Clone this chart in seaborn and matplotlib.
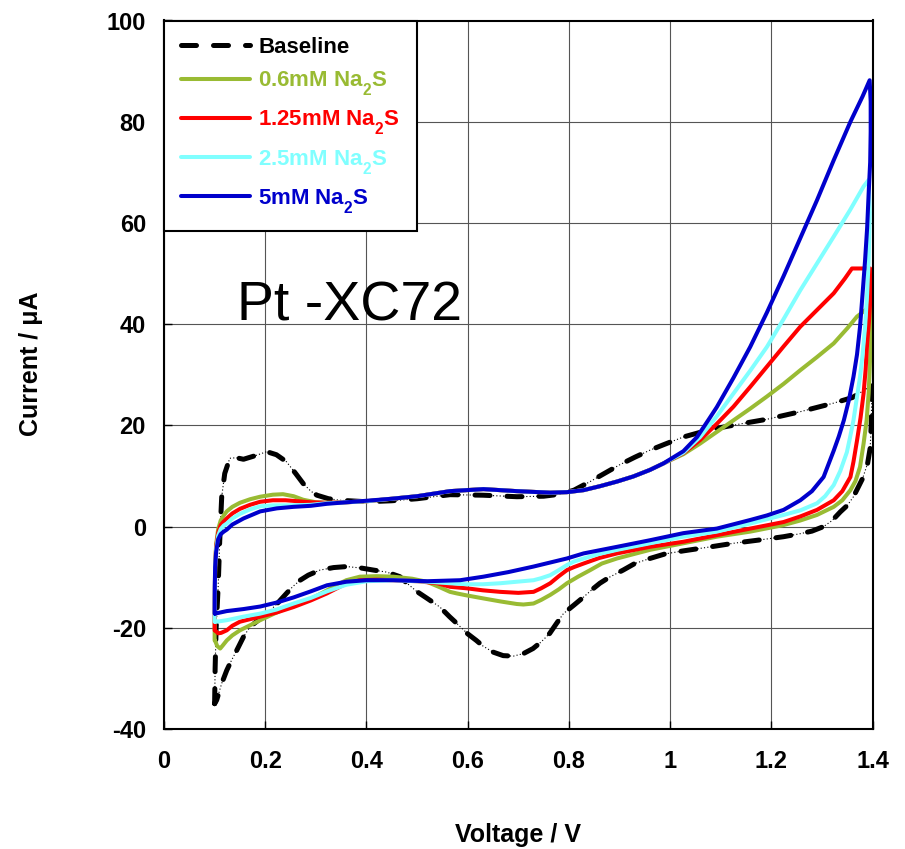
import matplotlib
matplotlib.use("Agg")
import matplotlib.pyplot as plt
import seaborn as sns

# ---------------- data ----------------
x_ticks = [0, 0.2, 0.4, 0.6, 0.8, 1.0, 1.2, 1.4]
x_tick_labels = ["0", "0.2", "0.4", "0.6", "0.8", "1", "1.2", "1.4"]
y_ticks = [-40, -20, 0, 20, 40, 60, 80, 100]
y_tick_labels = ["-40", "-20", "0", "20", "40", "60", "80", "100"]

series_labels = ["Baseline", "0.6mM Na$_2$S", "1.25mM Na$_2$S",
                 "2.5mM Na$_2$S", "5mM Na$_2$S"]

base_v = [0.100, 0.101, 0.103, 0.107, 0.110, 0.114, 0.120, 0.130, 0.143, 0.157, 0.180, 0.203,
          0.222, 0.242, 0.260, 0.275, 0.290, 0.302, 0.325, 0.348, 0.401, 0.450, 0.500, 0.565,
          0.630, 0.697, 0.750, 0.783, 0.810, 0.842, 0.870, 0.900, 0.930, 0.960, 0.990, 1.026,
          1.080, 1.145, 1.191, 1.257, 1.323, 1.360, 1.397,
          1.398, 1.397, 1.395, 1.390, 1.380, 1.370, 1.362, 1.350, 1.336, 1.320, 1.303, 1.280,
          1.257, 1.224, 1.180, 1.125, 1.080, 1.026, 0.990, 0.960, 0.930, 0.907, 0.880, 0.861,
          0.845, 0.828, 0.810, 0.789, 0.775, 0.762, 0.745, 0.729, 0.710, 0.690, 0.670, 0.650,
          0.630, 0.617, 0.600, 0.578, 0.564, 0.545, 0.520, 0.499, 0.480, 0.466, 0.440, 0.414,
          0.390, 0.361, 0.335, 0.308, 0.285, 0.269, 0.255, 0.242, 0.222, 0.203, 0.185, 0.170,
          0.157, 0.144, 0.133, 0.124, 0.114, 0.104, 0.100]
base_i = [-35.0, -28.0, -20.0, -11.9, -3.0, 5.9, 10.5, 13.5, 13.6, 13.3, 14.0, 14.8,
          14.2, 12.8, 10.5, 8.5, 7.0, 6.2, 5.5, 5.2, 4.9, 5.1, 5.5, 6.3,
          6.2, 5.9, 6.0, 6.4, 7.2, 8.9, 10.5, 12.2, 13.7, 15.1, 16.3, 17.7,
          19.2, 20.4, 21.2, 22.7, 24.4, 25.5, 27.8,
          25.0, 20.0, 15.5, 12.5, 9.5, 7.5, 5.9, 4.2, 2.9, 1.2, 0.0, -0.9,
          -1.4, -2.0, -2.6, -3.3, -4.0, -4.8, -5.4, -6.3, -7.3, -8.6, -10.0, -11.2,
          -12.5, -14.0, -15.5, -17.2, -19.2, -21.1, -22.8, -24.1, -25.1, -25.6, -25.5, -24.8,
          -23.6, -22.5, -21.2, -19.1, -17.8, -15.9, -14.2, -12.8, -11.2, -9.9, -9.0, -8.6,
          -8.2, -7.9, -8.1, -8.6, -9.6, -10.6, -11.8, -13.2, -15.4, -17.2, -18.6, -19.8,
          -21.8, -24.4, -26.5, -28.4, -31.0, -34.3, -35.0]

s06_v = [0.100, 0.1003, 0.101, 0.103, 0.107, 0.112, 0.118, 0.124, 0.135, 0.150, 0.170, 0.190,
         0.215, 0.235, 0.256, 0.275, 0.300, 0.330, 0.360, 0.400, 0.450, 0.500, 0.565, 0.631,
         0.697, 0.763, 0.796, 0.829, 0.862, 0.895, 0.927, 0.960, 0.987, 1.026, 1.059, 1.092,
         1.125, 1.158, 1.191, 1.224, 1.257, 1.290, 1.323, 1.350, 1.369, 1.395,
         1.397, 1.396, 1.394, 1.392, 1.388, 1.382, 1.375, 1.366, 1.356, 1.340, 1.323, 1.290,
         1.257, 1.224, 1.158, 1.092, 1.026, 0.960, 0.895, 0.865, 0.842, 0.818, 0.796, 0.780,
         0.763, 0.745, 0.730, 0.710, 0.697, 0.665, 0.631, 0.598, 0.578, 0.565, 0.545, 0.519,
         0.490, 0.453, 0.420, 0.387, 0.360, 0.340, 0.322, 0.290, 0.256, 0.222, 0.190, 0.170,
         0.150, 0.135, 0.124, 0.116, 0.111, 0.105, 0.1008]
s06_i = [-22.5, -15.0, -8.0, -3.5, -0.5, 1.2, 2.2, 3.0, 3.9, 4.7, 5.4, 5.9,
         6.3, 6.4, 6.0, 5.3, 4.8, 4.7, 4.8, 5.0, 5.5, 6.0, 7.0, 7.4,
         7.0, 6.7, 6.8, 7.2, 8.0, 8.9, 9.9, 11.2, 12.5, 14.3, 16.4, 18.7,
         21.0, 23.3, 25.7, 28.2, 30.9, 33.5, 36.2, 39.2, 41.5, 43.5,
         40.0, 36.2, 31.0, 26.3, 21.0, 16.4, 11.8, 9.0, 7.2, 5.2, 3.9, 2.3,
         1.2, 0.3, -1.0, -2.0, -3.3, -4.6, -6.3, -7.3, -8.6, -9.9, -11.2, -12.4,
         -13.5, -14.5, -15.2, -15.4, -15.3, -14.8, -14.2, -13.6, -13.2, -12.9, -12.0, -10.9,
         -10.3, -9.9, -9.8, -9.9, -10.6, -11.6, -12.6, -14.3, -15.5, -17.0, -18.5, -19.5,
         -20.5, -21.5, -22.5, -23.5, -24.1, -23.6, -22.5]

s125_v = [0.100, 0.1003, 0.101, 0.103, 0.107, 0.112, 0.118, 0.124, 0.135, 0.150, 0.170, 0.190,
          0.215, 0.240, 0.265, 0.290, 0.320, 0.360, 0.400, 0.450, 0.500, 0.565, 0.631, 0.697,
          0.763, 0.796, 0.829, 0.862, 0.895, 0.927, 0.960, 0.987, 1.026, 1.059, 1.092, 1.125,
          1.158, 1.191, 1.224, 1.257, 1.290, 1.323, 1.345, 1.359, 1.380, 1.395,
          1.396, 1.393, 1.389, 1.386, 1.382, 1.376, 1.369, 1.362, 1.356, 1.340, 1.323, 1.290,
          1.257, 1.224, 1.158, 1.092, 1.026, 0.960, 0.895, 0.860, 0.829, 0.810, 0.796, 0.780,
          0.763, 0.745, 0.730, 0.700, 0.664, 0.630, 0.598, 0.565, 0.540, 0.500, 0.453, 0.420,
          0.387, 0.355, 0.322, 0.290, 0.256, 0.222, 0.190, 0.170, 0.150, 0.135, 0.124, 0.113,
          0.107, 0.1008]
s125_i = [-20.5, -14.0, -8.0, -4.0, -1.2, 0.3, 1.0, 1.6, 2.6, 3.5, 4.3, 4.9,
          5.2, 5.2, 5.0, 4.8, 4.7, 4.8, 5.0, 5.5, 6.0, 7.0, 7.4, 7.0,
          6.7, 6.8, 7.2, 8.0, 8.9, 9.9, 11.2, 12.5, 14.5, 17.1, 20.3, 23.7,
          27.6, 31.6, 35.6, 39.5, 42.8, 46.1, 49.0, 51.0, 51.0, 51.0,
          46.1, 41.0, 36.2, 31.0, 26.3, 21.5, 17.0, 12.8, 9.8, 7.0, 5.2, 3.3,
          2.0, 0.9, -0.4, -1.7, -3.0, -4.0, -5.3, -6.2, -7.3, -8.0, -8.6, -9.8,
          -11.2, -12.2, -12.9, -13.1, -12.9, -12.6, -12.2, -11.9, -11.2, -10.8, -10.6, -10.5,
          -10.6, -11.5, -13.2, -14.6, -15.9, -17.0, -17.8, -18.3, -18.8, -19.6, -20.5, -21.0,
          -21.1, -20.5]

s25_v = [0.100, 0.1003, 0.101, 0.103, 0.107, 0.112, 0.118, 0.124, 0.135, 0.150, 0.170, 0.190,
         0.215, 0.256, 0.290, 0.320, 0.360, 0.400, 0.450, 0.500, 0.565, 0.631, 0.697, 0.763,
         0.796, 0.829, 0.862, 0.895, 0.927, 0.960, 0.987, 1.026, 1.059, 1.092, 1.125, 1.158,
         1.191, 1.224, 1.257, 1.290, 1.323, 1.355, 1.382, 1.392,
         1.394, 1.393, 1.392, 1.389, 1.385, 1.380, 1.375, 1.368, 1.362, 1.355, 1.349, 1.336,
         1.323, 1.306, 1.290, 1.257, 1.224, 1.158, 1.092, 1.026, 0.960, 0.895, 0.860, 0.829,
         0.810, 0.796, 0.780, 0.763, 0.745, 0.730, 0.697, 0.664, 0.630, 0.598, 0.565, 0.520,
         0.453, 0.400, 0.360, 0.322, 0.290, 0.256, 0.222, 0.190, 0.157, 0.124, 0.104, 0.1008]
s25_i = [-18.8, -13.0, -8.0, -4.5, -1.8, -0.5, 0.2, 0.6, 1.6, 2.5, 3.4, 4.0,
         4.2, 4.2, 4.3, 4.6, 4.8, 5.0, 5.5, 6.0, 7.0, 7.4, 7.0, 6.7,
         6.8, 7.2, 8.0, 8.9, 9.9, 11.2, 12.5, 14.6, 17.7, 21.8, 26.3, 30.8,
         35.5, 41.0, 46.7, 52.0, 57.3, 62.5, 67.2, 68.5,
         62.0, 57.0, 52.7, 46.0, 39.5, 34.0, 29.6, 25.0, 21.0, 17.5, 14.7, 11.0,
         8.2, 6.0, 4.6, 3.2, 2.3, 0.6, -1.0, -2.0, -3.3, -4.6, -5.4, -6.3,
         -6.9, -7.6, -8.6, -9.6, -10.2, -10.6, -10.9, -11.2, -11.4, -11.4, -11.2, -10.9,
         -10.6, -10.8, -11.5, -12.8, -14.1, -15.2, -16.4, -17.2, -17.8, -18.5, -18.8, -18.8]

s5_v = [0.100, 0.1003, 0.101, 0.103, 0.107, 0.112, 0.118, 0.124, 0.135, 0.157, 0.190, 0.223,
        0.256, 0.290, 0.322, 0.360, 0.400, 0.450, 0.500, 0.565, 0.631, 0.697, 0.763, 0.796,
        0.829, 0.862, 0.895, 0.927, 0.960, 0.987, 1.026, 1.053, 1.075, 1.092, 1.125, 1.158,
        1.191, 1.224, 1.257, 1.290, 1.323, 1.356, 1.380, 1.394,
        1.396, 1.396, 1.395, 1.392, 1.389, 1.385, 1.380, 1.375, 1.369, 1.362, 1.353, 1.343,
        1.333, 1.323, 1.303, 1.280, 1.257, 1.224, 1.191, 1.158, 1.092, 1.026, 0.960, 0.895,
        0.829, 0.796, 0.763, 0.730, 0.680, 0.631, 0.585, 0.520, 0.453, 0.400, 0.360, 0.322,
        0.290, 0.256, 0.223, 0.190, 0.157, 0.124, 0.1008]
s5_i = [-17.2, -12.0, -8.0, -5.0, -2.5, -1.5, -1.0, -0.6, 0.4, 1.6, 3.0, 3.6,
        3.9, 4.1, 4.5, 4.8, 5.1, 5.5, 6.0, 7.0, 7.4, 7.0, 6.7, 6.8,
        7.2, 8.0, 8.9, 9.9, 11.2, 12.5, 14.9, 17.7, 21.0, 23.6, 29.4, 35.5,
        42.3, 49.5, 57.0, 64.5, 72.4, 80.0, 85.0, 88.2,
        84.0, 78.0, 72.0, 65.8, 59.0, 52.7, 46.0, 39.5, 34.0, 29.6, 25.0, 21.0,
        17.8, 15.0, 9.8, 7.0, 5.2, 3.3, 2.2, 1.3, -0.4, -1.3, -2.7, -4.0,
        -5.3, -6.3, -7.1, -7.9, -9.0, -9.9, -10.6, -10.8, -10.6, -10.6, -10.9, -11.6,
        -12.8, -14.0, -15.0, -15.8, -16.3, -16.7, -17.2]

series_colors = ["#000000", "#99BB33", "#FF0000", "#80FFFF", "#0000CC"]

# ---------------- style ----------------
sns.set_style("white")
plt.rcParams["font.family"] = ["Liberation Sans", "DejaVu Sans"]
plt.rcParams["text.color"] = "black"
plt.rcParams["axes.labelcolor"] = "black"
plt.rcParams["xtick.color"] = "black"
plt.rcParams["ytick.color"] = "black"
plt.rcParams["mathtext.fontset"] = "custom"
plt.rcParams["mathtext.rm"] = "Liberation Sans:bold"
plt.rcParams["mathtext.bf"] = "Liberation Sans:bold"
plt.rcParams["mathtext.it"] = "Liberation Sans:bold:italic"
try:  # deeper subscript drop, as in the reference legend
    from matplotlib import _mathtext
    _mathtext.FontConstantsBase.sub1 = 0.75
except Exception:
    pass

fig = plt.figure(figsize=(9.05, 8.49), dpi=100)
ax = fig.add_axes([164 / 905, 1 - 729 / 849, 708.7 / 905, 708.5 / 849])

# baseline: thin dotted trace + thick dashes on top
sns.lineplot(x=base_v, y=base_i, sort=False, estimator=None, ax=ax,
             color="black", lw=0.8, linestyle=(0, (1, 2)))
sns.lineplot(x=base_v, y=base_i, sort=False, estimator=None, ax=ax,
             color="black", lw=3.6, linestyle=(0, (3.0, 3.4)),
             dash_capstyle="round", label=series_labels[0])

for v, i, c, lab in [(s06_v, s06_i, series_colors[1], series_labels[1]),
                     (s125_v, s125_i, series_colors[2], series_labels[2]),
                     (s25_v, s25_i, series_colors[3], series_labels[3]),
                     (s5_v, s5_i, series_colors[4], series_labels[4])]:
    sns.lineplot(x=v, y=i, sort=False, estimator=None, ax=ax,
                 color=c, lw=2.9, label=lab, solid_joinstyle="round")

ax.set_xlim(0, 1.4)
ax.set_ylim(-40, 100)
ax.set_xticks(x_ticks)
ax.set_xticklabels(x_tick_labels, fontsize=17, fontweight="bold")
ax.set_yticks(y_ticks)
ax.set_yticklabels(y_tick_labels, fontsize=17, fontweight="bold")
ax.tick_params(axis="both", direction="in", length=6, width=1, color="black",
               labelcolor="black", bottom=True, left=True)
ax.tick_params(axis="x", pad=15)
ax.tick_params(axis="y", pad=13)

ax.grid(True, color="#555555", lw=0.8)
ax.set_axisbelow(True)
for s in ax.spines.values():
    s.set_color("black")
    s.set_linewidth(1.5)

ax.set_xlabel("Voltage / V", fontsize=18, fontweight="bold", color="black")
ax.set_ylabel("Current / μA", fontsize=18, fontweight="bold", color="black")
ax.xaxis.label.set_va("center")
ax.yaxis.label.set_va("center")
ax.xaxis.set_label_coords(0.5, -0.1496)
ax.yaxis.set_label_coords(-0.188, 0.515)

ax.text(0.1444, 40.8, "Pt -XC72", fontsize=40, ha="left", va="baseline",
        color="black")

handles, labels = ax.get_legend_handles_labels()
leg = ax.legend(handles, labels, loc="upper left", bbox_to_anchor=(0, 1),
                borderaxespad=0, frameon=True, fancybox=False, edgecolor="black",
                framealpha=1, prop={"weight": "bold", "size": 16},
                handlelength=3.1, handletextpad=0.4, labelspacing=0.5,
                borderpad=0.75)
leg.get_frame().set_linewidth(1.5)
for t, c in zip(leg.get_texts(), series_colors):
    t.set_color(c)

fig.savefig("out.png", dpi=100)
